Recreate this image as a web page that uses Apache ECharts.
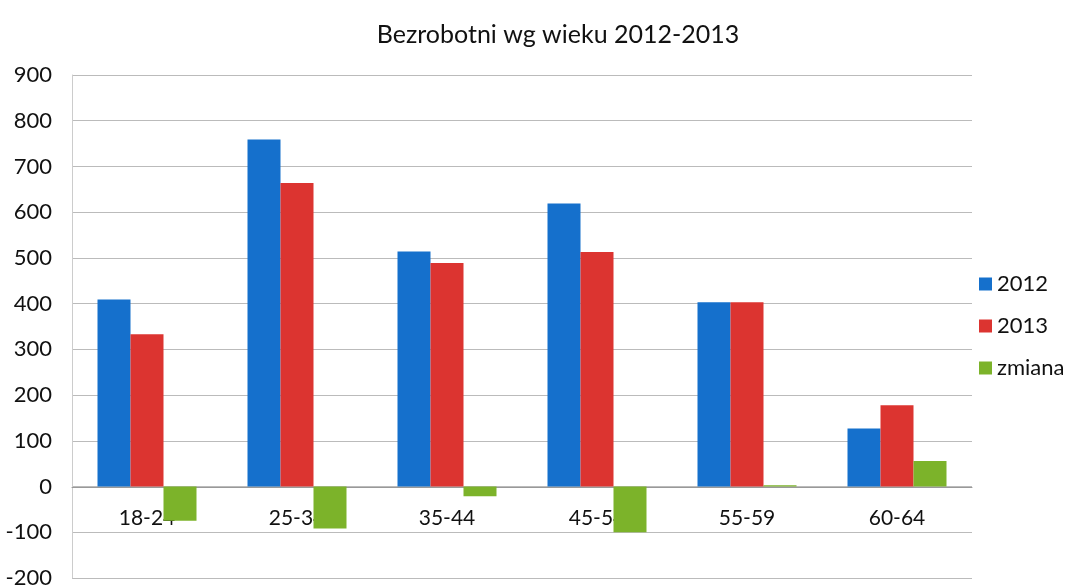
<!DOCTYPE html>
<html>
<head>
<meta charset="utf-8">
<script src="https://cdn.jsdelivr.net/npm/echarts@6/dist/echarts.min.js"></script>
<style>
  html, body { margin: 0; padding: 0; background: #fff; }
  #chart { width: 1089px; height: 587px; }
</style>
</head>
<body>
<div id="chart"></div>
<script>
// dane
const categories = ["18-24", "25-34", "35-44", "45-54", "55-59", "60-64"];
const values2012 = [409, 759, 514, 619, 403, 127];
const values2013 = [333, 664, 489, 513, 403, 178];
const zmiana = [-75, -92, -21, -100, 3, 56];

const myChart = echarts.init(document.getElementById("chart"));
const font = "Lato, 'Open Sans', sans-serif";

let option = {
  animation: false,
  textStyle: { fontFamily: font },
  title: {
    text: "Bezrobotni wg wieku 2012-2013",
    left: 553,
    textAlign: "center",
    top: 17,
    textStyle: { fontSize: 25, fontWeight: "normal", color: "#111", fontFamily: font },
  },
  legend: {
    orient: "vertical",
    left: 974,
    top: 268,
    itemWidth: 13,
    itemHeight: 13,
    itemGap: 20,
    icon: "rect",
    textStyle: { fontSize: 22, color: "#111", fontFamily: font },
    data: ["2012", "2013", "zmiana"],
  },
  grid: { left: 72, right: 117, top: 75, bottom: 9, outerBoundsMode: "none" },
  xAxis: {
    type: "category",
    data: categories,
    position: "bottom",
    // oś kategorii na wysokości zera (onZero tu nie działa)
    offset: -91,
    axisLine: { onZero: false, lineStyle: { color: "#999" } },
    axisTick: { show: false },
    axisLabel: { fontSize: 21, color: "#111", margin: 21, fontFamily: font },
  },
  yAxis: {
    type: "value",
    min: -200,
    max: 900,
    interval: 100,
    axisLine: { show: true, lineStyle: { color: "#ccc" } },
    axisLabel: { fontSize: 22, color: "#111", margin: 20, fontFamily: font },
    splitLine: { lineStyle: { color: "#bbb" } },
  },
  series: [
    {
      name: "2012",
      type: "bar",
      data: values2012,
      barGap: "0%",
      barCategoryGap: "34%",
      itemStyle: { color: "#1570cc" },
    },
    {
      name: "2013",
      type: "bar",
      data: values2013,
      itemStyle: { color: "#dc3430" },
    },
    {
      name: "zmiana",
      type: "bar",
      data: zmiana,
      itemStyle: { color: "#7cb32a" },
    },
  ],
};
myChart.setOption(option);
</script>
</body>
</html>
